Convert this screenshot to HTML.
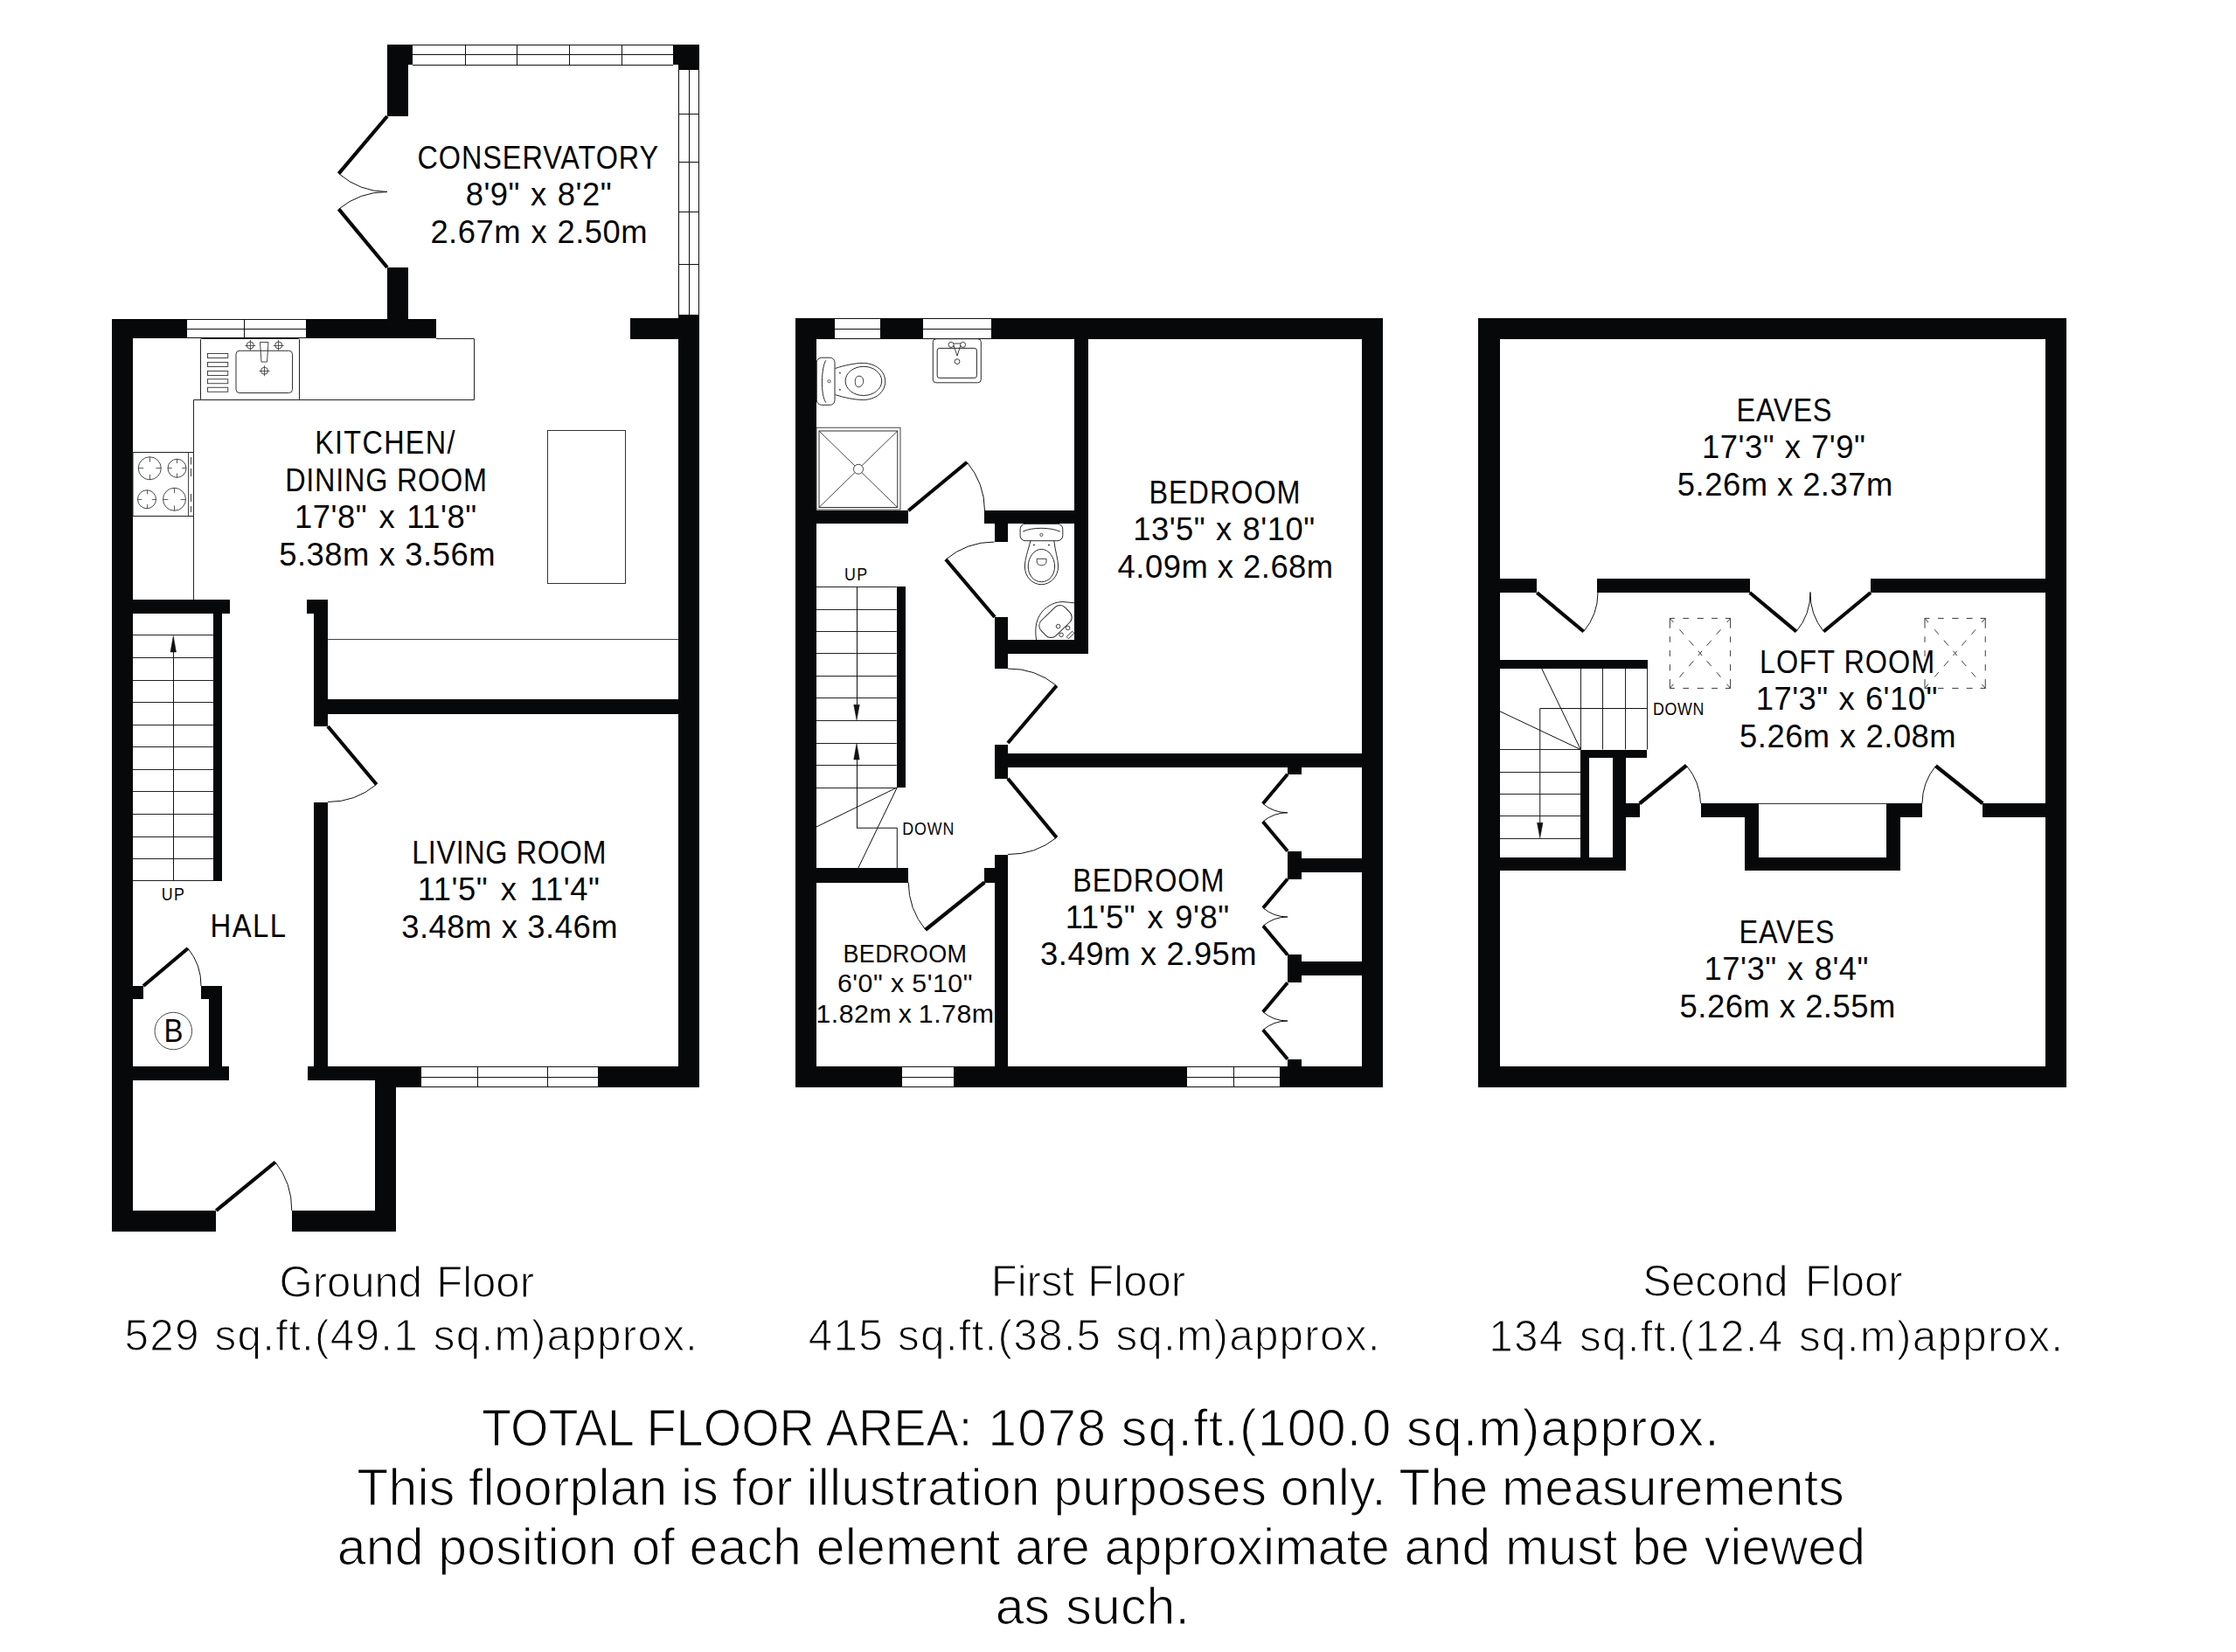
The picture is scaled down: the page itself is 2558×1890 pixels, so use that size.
<!DOCTYPE html>
<html><head><meta charset="utf-8"><style>html,body{margin:0;padding:0;background:#fff;}svg{display:block}</style></head>
<body><svg width="2558" height="1890" viewBox="0 0 2558 1890" style="font-family:'Liberation Sans',sans-serif">
<rect width="2558" height="1890" fill="#fff"/>
<rect x="128" y="365" width="24" height="1044" fill="#060809"/>
<rect x="128" y="365" width="86" height="22" fill="#060809"/>
<path d="M214,365.5H350M214,376.5H350M214,386.5H350" stroke="#111" stroke-width="1" fill="none"/>
<path d="M279.5,365V387" stroke="#111" stroke-width="1" fill="none"/>
<rect x="350" y="365" width="149" height="22" fill="#060809"/>
<rect x="443" y="306" width="24" height="81" fill="#060809"/>
<rect x="443" y="51" width="24" height="82" fill="#060809"/>
<rect x="443" y="51" width="29" height="23" fill="#060809"/>
<path d="M472,51.5H770M472,62.5H770M472,74.5H770" stroke="#111" stroke-width="1" fill="none"/>
<path d="M532.5,51V75" stroke="#111" stroke-width="1" fill="none"/>
<path d="M591.5,51V75" stroke="#111" stroke-width="1" fill="none"/>
<path d="M651.5,51V75" stroke="#111" stroke-width="1" fill="none"/>
<path d="M711.5,51V75" stroke="#111" stroke-width="1" fill="none"/>
<rect x="770" y="51" width="30" height="23" fill="#060809"/>
<rect x="776" y="74" width="24" height="6" fill="#060809"/>
<path d="M776.5,80V360M788.5,80V360M799.5,80V360" stroke="#111" stroke-width="1" fill="none"/>
<path d="M776,130.5H800" stroke="#111" stroke-width="1" fill="none"/>
<path d="M776,185.5H800" stroke="#111" stroke-width="1" fill="none"/>
<path d="M776,242.5H800" stroke="#111" stroke-width="1" fill="none"/>
<path d="M776,302.5H800" stroke="#111" stroke-width="1" fill="none"/>
<rect x="776" y="360" width="24" height="884" fill="#060809"/>
<rect x="721" y="364" width="79" height="24" fill="#060809"/>
<rect x="152" y="686" width="111" height="16" fill="#060809"/>
<rect x="244" y="702" width="10" height="306" fill="#060809"/>
<rect x="351" y="686" width="24" height="16" fill="#060809"/>
<rect x="359" y="686" width="16" height="145" fill="#060809"/>
<rect x="375" y="800" width="401" height="17" fill="#060809"/>
<rect x="359" y="918" width="16" height="318" fill="#060809"/>
<rect x="152" y="1128" width="12" height="15" fill="#060809"/>
<rect x="230" y="1128" width="24" height="15" fill="#060809"/>
<rect x="239" y="1143" width="15" height="77" fill="#060809"/>
<rect x="152" y="1220" width="110" height="16" fill="#060809"/>
<rect x="352" y="1220" width="130" height="16" fill="#060809"/>
<rect x="429" y="1220" width="53" height="24" fill="#060809"/>
<rect x="429" y="1220" width="24" height="189" fill="#060809"/>
<path d="M482,1220.5H684M482,1232.5H684M482,1243.5H684" stroke="#111" stroke-width="1" fill="none"/>
<path d="M546.5,1220V1244" stroke="#111" stroke-width="1" fill="none"/>
<path d="M626.5,1220V1244" stroke="#111" stroke-width="1" fill="none"/>
<rect x="684" y="1220" width="116" height="24" fill="#060809"/>
<rect x="128" y="1385" width="119" height="24" fill="#060809"/>
<rect x="334" y="1385" width="119" height="24" fill="#060809"/>
<line x1="443.00" y1="133.00" x2="387.50" y2="198.60" stroke="#060809" stroke-width="4.2"/>
<path d="M387.50,198.60 A85.93,85.93 0 0 0 443.00,219.50" stroke="#111" stroke-width="1.0" fill="none" />
<line x1="443.00" y1="306.00" x2="387.50" y2="239.20" stroke="#060809" stroke-width="4.2"/>
<path d="M387.50,239.20 A86.85,86.85 0 0 1 443.00,219.50" stroke="#111" stroke-width="1.0" fill="none" />
<line x1="375.00" y1="831.00" x2="430.75" y2="897.50" stroke="#060809" stroke-width="4.2"/>
<path d="M430.75,897.50 A86.78,86.78 0 0 1 375.00,917.50" stroke="#111" stroke-width="1.0" fill="none" />
<line x1="164.00" y1="1128.00" x2="215.00" y2="1085.00" stroke="#060809" stroke-width="4.2"/>
<path d="M215.00,1085.00 A66.71,66.71 0 0 1 230.00,1128.00" stroke="#111" stroke-width="1.0" fill="none" />
<line x1="247.25" y1="1385.00" x2="315.00" y2="1329.50" stroke="#060809" stroke-width="4.2"/>
<path d="M315.00,1329.50 A87.58,87.58 0 0 1 333.75,1385.00" stroke="#111" stroke-width="1.0" fill="none" />
<path d="M221.5,686 V457.5 H542.5 V387.5 H499" stroke="#222" stroke-width="1.0" fill="none" />
<rect x="229.5" y="387.5" width="113" height="70" fill="none" stroke="#222" stroke-width="1" rx="1"/>
<rect x="237.5" y="404.5" width="23.25" height="5" fill="none" stroke="#333" stroke-width="0.9"/>
<rect x="237.5" y="414.5" width="23.25" height="5" fill="none" stroke="#333" stroke-width="0.9"/>
<rect x="237.5" y="424.5" width="23.25" height="5" fill="none" stroke="#333" stroke-width="0.9"/>
<rect x="237.5" y="433.75" width="23.25" height="5" fill="none" stroke="#333" stroke-width="0.9"/>
<rect x="237.5" y="443.25" width="23.25" height="5" fill="none" stroke="#333" stroke-width="0.9"/>
<rect x="270" y="401.25" width="64.5" height="48.25" rx="4" fill="none" stroke="#333" stroke-width="1"/>
<circle cx="286.25" cy="395" r="4" fill="none" stroke="#333" stroke-width="0.9"/>
<line x1="280.25" y1="395.50" x2="292.25" y2="395.50" stroke="#333" stroke-width="0.8"/>
<line x1="286.50" y1="389.00" x2="286.50" y2="401.00" stroke="#333" stroke-width="0.8"/>
<circle cx="318.75" cy="395" r="4" fill="none" stroke="#333" stroke-width="0.9"/>
<line x1="312.75" y1="395.50" x2="324.75" y2="395.50" stroke="#333" stroke-width="0.8"/>
<line x1="318.50" y1="389.00" x2="318.50" y2="401.00" stroke="#333" stroke-width="0.8"/>
<circle cx="302.5" cy="424.25" r="4" fill="none" stroke="#333" stroke-width="0.9"/>
<line x1="296.50" y1="424.50" x2="308.50" y2="424.50" stroke="#333" stroke-width="0.8"/>
<line x1="302.50" y1="418.25" x2="302.50" y2="430.25" stroke="#333" stroke-width="0.8"/>
<path d="M297.5,391.5 H307 L305.5,414 H299 Z" stroke="#333" stroke-width="0.9" fill="none" />
<rect x="152" y="517.5" width="69.5" height="73" fill="none" stroke="#222" stroke-width="1"/>
<path d="M218.5,523V531.5M218.5,536V545M218.5,565V574M218.5,579V586" stroke="#444" stroke-width="1"/>
<line x1="215.50" y1="517.50" x2="215.50" y2="590.00" stroke="#333" stroke-width="0.9"/>
<circle cx="171.25" cy="535.75" r="13" fill="none" stroke="#333" stroke-width="0.9"/>
<line x1="178.40" y1="535.50" x2="184.25" y2="535.50" stroke="#333" stroke-width="0.8"/>
<line x1="164.10" y1="535.50" x2="158.25" y2="535.50" stroke="#333" stroke-width="0.8"/>
<line x1="171.50" y1="542.90" x2="171.50" y2="548.75" stroke="#333" stroke-width="0.8"/>
<line x1="171.50" y1="528.60" x2="171.50" y2="522.75" stroke="#333" stroke-width="0.8"/>
<circle cx="202.5" cy="535.75" r="10.5" fill="none" stroke="#333" stroke-width="0.9"/>
<line x1="208.28" y1="535.50" x2="213.00" y2="535.50" stroke="#333" stroke-width="0.8"/>
<line x1="196.72" y1="535.50" x2="192.00" y2="535.50" stroke="#333" stroke-width="0.8"/>
<line x1="202.50" y1="541.52" x2="202.50" y2="546.25" stroke="#333" stroke-width="0.8"/>
<line x1="202.50" y1="529.98" x2="202.50" y2="525.25" stroke="#333" stroke-width="0.8"/>
<circle cx="168" cy="571.25" r="10.5" fill="none" stroke="#333" stroke-width="0.9"/>
<line x1="173.78" y1="571.50" x2="178.50" y2="571.50" stroke="#333" stroke-width="0.8"/>
<line x1="162.22" y1="571.50" x2="157.50" y2="571.50" stroke="#333" stroke-width="0.8"/>
<line x1="168.50" y1="577.02" x2="168.50" y2="581.75" stroke="#333" stroke-width="0.8"/>
<line x1="168.50" y1="565.48" x2="168.50" y2="560.75" stroke="#333" stroke-width="0.8"/>
<circle cx="199.5" cy="571.25" r="13" fill="none" stroke="#333" stroke-width="0.9"/>
<line x1="206.65" y1="571.50" x2="212.50" y2="571.50" stroke="#333" stroke-width="0.8"/>
<line x1="192.35" y1="571.50" x2="186.50" y2="571.50" stroke="#333" stroke-width="0.8"/>
<line x1="199.50" y1="578.40" x2="199.50" y2="584.25" stroke="#333" stroke-width="0.8"/>
<line x1="199.50" y1="564.10" x2="199.50" y2="558.25" stroke="#333" stroke-width="0.8"/>
<rect x="626.5" y="492.5" width="89" height="175" fill="none" stroke="#333" stroke-width="1"/>
<line x1="375.00" y1="731.50" x2="776.50" y2="731.50" stroke="#444" stroke-width="1.0"/>
<line x1="152.00" y1="726.50" x2="244.50" y2="726.50" stroke="#222" stroke-width="1.0"/>
<line x1="152.00" y1="752.50" x2="244.50" y2="752.50" stroke="#222" stroke-width="1.0"/>
<line x1="152.00" y1="778.50" x2="244.50" y2="778.50" stroke="#222" stroke-width="1.0"/>
<line x1="152.00" y1="803.50" x2="244.50" y2="803.50" stroke="#222" stroke-width="1.0"/>
<line x1="152.00" y1="829.50" x2="244.50" y2="829.50" stroke="#222" stroke-width="1.0"/>
<line x1="152.00" y1="854.50" x2="244.50" y2="854.50" stroke="#222" stroke-width="1.0"/>
<line x1="152.00" y1="880.50" x2="244.50" y2="880.50" stroke="#222" stroke-width="1.0"/>
<line x1="152.00" y1="905.50" x2="244.50" y2="905.50" stroke="#222" stroke-width="1.0"/>
<line x1="152.00" y1="931.50" x2="244.50" y2="931.50" stroke="#222" stroke-width="1.0"/>
<line x1="152.00" y1="957.50" x2="244.50" y2="957.50" stroke="#222" stroke-width="1.0"/>
<line x1="152.00" y1="982.50" x2="244.50" y2="982.50" stroke="#222" stroke-width="1.0"/>
<line x1="152.00" y1="1007.50" x2="244.50" y2="1007.50" stroke="#222" stroke-width="1.0"/>
<line x1="198.50" y1="1007.50" x2="198.50" y2="745.00" stroke="#111" stroke-width="1.0"/>
<path d="M198.25,727.5 L195,746 L201.5,746 Z" stroke="#111" stroke-width="0.5" fill="#111" />
<rect x="910" y="364" width="24" height="880" fill="#060809"/>
<rect x="910" y="364" width="45" height="24" fill="#060809"/>
<path d="M955,364.5H1007M955,376.5H1007M955,387.5H1007" stroke="#111" stroke-width="1" fill="none"/>
<rect x="1007" y="364" width="49" height="24" fill="#060809"/>
<path d="M1056,364.5H1134M1056,376.5H1134M1056,387.5H1134" stroke="#111" stroke-width="1" fill="none"/>
<rect x="1134" y="364" width="448" height="24" fill="#060809"/>
<rect x="1558" y="364" width="24" height="880" fill="#060809"/>
<rect x="910" y="1220" width="122" height="24" fill="#060809"/>
<path d="M1032,1220.5H1091M1032,1232.5H1091M1032,1243.5H1091" stroke="#111" stroke-width="1" fill="none"/>
<rect x="1091" y="1220" width="267" height="24" fill="#060809"/>
<path d="M1358,1220.5H1464M1358,1232.5H1464M1358,1243.5H1464" stroke="#111" stroke-width="1" fill="none"/>
<path d="M1411.5,1220V1244" stroke="#111" stroke-width="1" fill="none"/>
<rect x="1464" y="1220" width="118" height="24" fill="#060809"/>
<rect x="1229" y="388" width="16" height="360" fill="#060809"/>
<rect x="934" y="584" width="105" height="15" fill="#060809"/>
<rect x="1126" y="584" width="103" height="15" fill="#060809"/>
<rect x="1138" y="599" width="15" height="21" fill="#060809"/>
<rect x="1138" y="706" width="15" height="59" fill="#060809"/>
<rect x="1138" y="732" width="107" height="16" fill="#060809"/>
<rect x="1026" y="671" width="10" height="230" fill="#060809"/>
<rect x="1138" y="852" width="15" height="39" fill="#060809"/>
<rect x="1153" y="862" width="405" height="16" fill="#060809"/>
<rect x="1138" y="978" width="15" height="242" fill="#060809"/>
<rect x="934" y="993" width="105" height="17" fill="#060809"/>
<rect x="1126" y="993" width="27" height="17" fill="#060809"/>
<rect x="1473" y="878" width="16" height="8" fill="#060809"/>
<rect x="1473" y="974" width="16" height="32" fill="#060809"/>
<rect x="1473" y="1092" width="16" height="32" fill="#060809"/>
<rect x="1473" y="1212" width="16" height="8" fill="#060809"/>
<rect x="1489" y="982" width="69" height="16" fill="#060809"/>
<rect x="1489" y="1100" width="69" height="16" fill="#060809"/>
<line x1="1039.25" y1="584.25" x2="1106.25" y2="528.75" stroke="#060809" stroke-width="4.2"/>
<path d="M1106.25,528.75 A87.00,87.00 0 0 1 1126.50,584.25" stroke="#111" stroke-width="1.0" fill="none" />
<line x1="1138.00" y1="706.00" x2="1082.00" y2="640.00" stroke="#060809" stroke-width="4.2"/>
<path d="M1082.00,640.00 A86.56,86.56 0 0 1 1137.50,620.00" stroke="#111" stroke-width="1.0" fill="none" />
<line x1="1153.00" y1="850.00" x2="1208.75" y2="784.50" stroke="#060809" stroke-width="4.2"/>
<path d="M1208.75,784.50 A86.01,86.01 0 0 0 1153.00,765.00" stroke="#111" stroke-width="1.0" fill="none" />
<line x1="1153.00" y1="890.75" x2="1208.75" y2="958.25" stroke="#060809" stroke-width="4.2"/>
<path d="M1208.75,958.25 A87.55,87.55 0 0 1 1153.00,977.50" stroke="#111" stroke-width="1.0" fill="none" />
<line x1="1126.25" y1="1009.50" x2="1058.75" y2="1063.75" stroke="#060809" stroke-width="4.2"/>
<path d="M1058.75,1063.75 A86.60,86.60 0 0 1 1039.25,1009.50" stroke="#111" stroke-width="1.0" fill="none" />
<line x1="1473.00" y1="885.75" x2="1444.72" y2="919.46" stroke="#060809" stroke-width="4.0"/>
<path d="M1444.72,919.46 A44.00,44.00 0 0 0 1473.00,929.75" stroke="#111" stroke-width="1.0" fill="none" />
<line x1="1473.00" y1="973.75" x2="1444.72" y2="940.04" stroke="#060809" stroke-width="4.0"/>
<path d="M1444.72,940.04 A44.00,44.00 0 0 1 1473.00,929.75" stroke="#111" stroke-width="1.0" fill="none" />
<line x1="1473.00" y1="1005.50" x2="1445.04" y2="1038.82" stroke="#060809" stroke-width="4.0"/>
<path d="M1445.04,1038.82 A43.50,43.50 0 0 0 1473.00,1049.00" stroke="#111" stroke-width="1.0" fill="none" />
<line x1="1473.00" y1="1092.50" x2="1445.04" y2="1059.18" stroke="#060809" stroke-width="4.0"/>
<path d="M1445.04,1059.18 A43.50,43.50 0 0 1 1473.00,1049.00" stroke="#111" stroke-width="1.0" fill="none" />
<line x1="1473.00" y1="1124.25" x2="1444.88" y2="1157.76" stroke="#060809" stroke-width="4.0"/>
<path d="M1444.88,1157.76 A43.75,43.75 0 0 0 1473.00,1168.00" stroke="#111" stroke-width="1.0" fill="none" />
<line x1="1473.00" y1="1211.75" x2="1444.88" y2="1178.24" stroke="#060809" stroke-width="4.0"/>
<path d="M1444.88,1178.24 A43.75,43.75 0 0 1 1473.00,1168.00" stroke="#111" stroke-width="1.0" fill="none" />
<rect x="934.3" y="409.2" width="20.7" height="54.1" rx="5.5" fill="none" stroke="#2a2a2a" stroke-width="1"/>
<path d="M944.8,412.3 C939.5,420 938.5,452 944.8,460.6" stroke="#2a2a2a" stroke-width="1.0" fill="none" />
<circle cx="948.5" cy="436.2" r="1.6" fill="none" stroke="#2a2a2a" stroke-width="0.8"/>
<path d="M955.5,421.5 C966,418 978,415.4 987.2,415.4 C1001,415.4 1012.7,424 1012.7,436.4 C1012.7,449 1001,457.5 987.2,457.5 C978,457.5 966,455 955.5,451.6" stroke="#2a2a2a" stroke-width="1.0" fill="none" />
<ellipse cx="987.9" cy="435.9" rx="20.8" ry="16.6" fill="none" stroke="#2a2a2a" stroke-width="1"/>
<path d="M983,430.2 C986.5,430.2 987.7,433 987.7,436 C987.7,440 985,442.7 982,442.7 C979.5,442.7 978.3,440 978.3,436.5 C978.3,432.5 980,430.2 983,430.2 Z" stroke="#2a2a2a" stroke-width="0.9" fill="none" />
<circle cx="960.9" cy="426.6" r="0.9" fill="#2a2a2a"/><circle cx="960.9" cy="445.8" r="0.9" fill="#2a2a2a"/>
<rect x="1067.3" y="387.7" width="55" height="50.1" rx="3.6" fill="none" stroke="#2a2a2a" stroke-width="1"/>
<rect x="1072.2" y="398.4" width="45.2" height="34" rx="2.5" fill="none" stroke="#2a2a2a" stroke-width="1"/>
<circle cx="1088.1" cy="394.4" r="3" fill="#fff" stroke="#2a2a2a" stroke-width="0.9"/>
<circle cx="1101.6" cy="394.4" r="3" fill="#fff" stroke="#2a2a2a" stroke-width="0.9"/>
<path d="M1091,393 H1099" stroke="#2a2a2a" stroke-width="0.9" fill="none" />
<path d="M1091,395 L1095,407.2 L1098.9,395" stroke="#2a2a2a" stroke-width="0.9" fill="none" />
<circle cx="1095" cy="413.6" r="2.9" fill="none" stroke="#2a2a2a" stroke-width="0.9"/>
<rect x="934" y="489.25" width="96" height="93.75" fill="none" stroke="#444" stroke-width="1"/>
<rect x="937" y="493" width="89.75" height="87.5" fill="none" stroke="#333" stroke-width="1"/>
<line x1="937.00" y1="493.00" x2="1026.75" y2="580.50" stroke="#333" stroke-width="0.9"/>
<line x1="1026.75" y1="493.00" x2="937.00" y2="580.50" stroke="#333" stroke-width="0.9"/>
<circle cx="982" cy="536.75" r="5.5" fill="#fff" stroke="#333" stroke-width="0.9"/>
<rect x="1167.1" y="599.4" width="48.7" height="19.3" rx="6" fill="none" stroke="#2a2a2a" stroke-width="1"/>
<path d="M1170.2,608.2 C1180,603 1202,603 1212.8,608.2" stroke="#2a2a2a" stroke-width="1.0" fill="none" />
<circle cx="1191.4" cy="611.9" r="1.6" fill="none" stroke="#2a2a2a" stroke-width="0.8"/>
<path d="M1179,618.7 C1176,630 1172.4,640 1172.4,648 C1172.4,660 1181,668.7 1191.3,668.7 C1201.5,668.7 1210.6,660 1210.6,648 C1210.6,640 1207,630 1205.8,618.7" stroke="#2a2a2a" stroke-width="1.0" fill="none" />
<path d="M1191.4,628.4 C1200,628.4 1206.6,638 1206.6,648 C1206.6,658 1200,665.7 1191.4,665.7 C1182.8,665.7 1176.2,658 1176.2,648 C1176.2,638 1182.8,628.4 1191.4,628.4 Z" stroke="#2a2a2a" stroke-width="1.0" fill="none" />
<path d="M1186.2,639.3 H1197 V643 C1197,645.5 1194,646.8 1191.6,646.8 C1189,646.8 1186.2,645.5 1186.2,643 Z" stroke="#2a2a2a" stroke-width="0.9" fill="none" />
<circle cx="1182.9" cy="623.5" r="0.9" fill="#2a2a2a"/><circle cx="1200" cy="623.5" r="0.9" fill="#2a2a2a"/>
<path d="M1185.6,732 C1184,722 1184,710 1192,700 C1199,692 1208,688.5 1216,688.5 L1229,689.8" stroke="#2a2a2a" stroke-width="1.0" fill="none" />
<g transform="translate(1207.5,711) rotate(-44)"><rect x="-19" y="-12" width="38" height="24" rx="8" fill="none" stroke="#2a2a2a" stroke-width="1"/></g>
<circle cx="1210.6" cy="716.6" r="2.3" fill="#fff" stroke="#2a2a2a" stroke-width="0.9"/>
<circle cx="1221.6" cy="718.4" r="2.3" fill="#fff" stroke="#2a2a2a" stroke-width="0.9"/>
<circle cx="1214.1" cy="726.3" r="2.3" fill="#fff" stroke="#2a2a2a" stroke-width="0.9"/>
<g transform="translate(1224.5,726.5) rotate(-44)"><rect x="-4.5" y="-1.6" width="9" height="3.2" fill="none" stroke="#2a2a2a" stroke-width="0.9"/></g>
<line x1="934.00" y1="671.50" x2="1025.75" y2="671.50" stroke="#222" stroke-width="1.0"/>
<line x1="934.00" y1="697.50" x2="1025.75" y2="697.50" stroke="#222" stroke-width="1.0"/>
<line x1="934.00" y1="722.50" x2="1025.75" y2="722.50" stroke="#222" stroke-width="1.0"/>
<line x1="934.00" y1="747.50" x2="1025.75" y2="747.50" stroke="#222" stroke-width="1.0"/>
<line x1="934.00" y1="773.50" x2="1025.75" y2="773.50" stroke="#222" stroke-width="1.0"/>
<line x1="934.00" y1="798.50" x2="1025.75" y2="798.50" stroke="#222" stroke-width="1.0"/>
<line x1="934.00" y1="824.50" x2="1025.75" y2="824.50" stroke="#222" stroke-width="1.0"/>
<line x1="934.00" y1="850.50" x2="1025.75" y2="850.50" stroke="#222" stroke-width="1.0"/>
<line x1="934.00" y1="875.50" x2="1025.75" y2="875.50" stroke="#222" stroke-width="1.0"/>
<line x1="934.00" y1="901.50" x2="1025.75" y2="901.50" stroke="#222" stroke-width="1.0"/>
<line x1="980.50" y1="671.25" x2="980.50" y2="806.00" stroke="#111" stroke-width="1.0"/>
<path d="M980,823.75 L976.75,806.25 L983.25,806.25 Z" stroke="#111" stroke-width="0.5" fill="#111" />
<line x1="980.50" y1="868.50" x2="980.50" y2="947.25" stroke="#111" stroke-width="1.0"/>
<path d="M980,850.5 L976.75,869 L983.25,869 Z" stroke="#111" stroke-width="0.5" fill="#111" />
<path d="M980,947.25 H1026.3 V993.5" stroke="#111" stroke-width="1.0" fill="none" />
<line x1="1026.30" y1="900.90" x2="933.60" y2="946.20" stroke="#111" stroke-width="1.0"/>
<line x1="1026.30" y1="900.90" x2="981.60" y2="993.50" stroke="#111" stroke-width="1.0"/>
<rect x="1691" y="364" width="25" height="880" fill="#060809"/>
<rect x="1691" y="364" width="673" height="24" fill="#060809"/>
<rect x="2340" y="364" width="24" height="880" fill="#060809"/>
<rect x="1691" y="1220" width="673" height="24" fill="#060809"/>
<rect x="1716" y="662" width="42" height="16" fill="#060809"/>
<rect x="1827" y="662" width="175" height="16" fill="#060809"/>
<rect x="2140" y="662" width="200" height="16" fill="#060809"/>
<rect x="1716" y="755" width="169" height="10" fill="#060809"/>
<rect x="1808" y="858" width="76" height="9" fill="#060809"/>
<rect x="1808" y="858" width="10" height="123" fill="#060809"/>
<rect x="1845" y="858" width="15" height="138" fill="#060809"/>
<rect x="1716" y="981" width="144" height="15" fill="#060809"/>
<rect x="1860" y="919" width="16" height="16" fill="#060809"/>
<rect x="1946" y="919" width="66" height="16" fill="#060809"/>
<rect x="1996" y="919" width="16" height="77" fill="#060809"/>
<rect x="1996" y="981" width="178" height="15" fill="#060809"/>
<rect x="2158" y="919" width="16" height="77" fill="#060809"/>
<rect x="2158" y="919" width="41" height="16" fill="#060809"/>
<rect x="2268" y="919" width="72" height="16" fill="#060809"/>
<line x1="2012.00" y1="919.50" x2="2158.25" y2="919.50" stroke="#333" stroke-width="1.0"/>
<line x1="1758.25" y1="678.00" x2="1811.75" y2="722.50" stroke="#060809" stroke-width="4.2"/>
<path d="M1811.75,722.50 A69.59,69.59 0 0 0 1828.00,678.00" stroke="#111" stroke-width="1.0" fill="none" />
<line x1="2001.75" y1="678.00" x2="2055.00" y2="722.50" stroke="#060809" stroke-width="4.2"/>
<path d="M2055.00,722.50 A69.40,69.40 0 0 0 2071.00,677.50" stroke="#111" stroke-width="1.0" fill="none" />
<line x1="2140.00" y1="678.00" x2="2086.25" y2="722.50" stroke="#060809" stroke-width="4.2"/>
<path d="M2086.25,722.50 A69.78,69.78 0 0 1 2071.00,677.50" stroke="#111" stroke-width="1.0" fill="none" />
<line x1="1875.75" y1="919.25" x2="1929.25" y2="875.75" stroke="#060809" stroke-width="4.2"/>
<path d="M1929.25,875.75 A68.95,68.95 0 0 1 1945.50,919.25" stroke="#111" stroke-width="1.0" fill="none" />
<line x1="2268.25" y1="919.25" x2="2214.50" y2="876.25" stroke="#060809" stroke-width="4.2"/>
<path d="M2214.50,876.25 A68.83,68.83 0 0 0 2199.00,919.25" stroke="#111" stroke-width="1.0" fill="none" />
<line x1="1808.50" y1="765.00" x2="1808.50" y2="857.50" stroke="#222" stroke-width="1.0"/>
<line x1="1833.50" y1="765.00" x2="1833.50" y2="857.50" stroke="#222" stroke-width="1.0"/>
<line x1="1859.50" y1="765.00" x2="1859.50" y2="857.50" stroke="#222" stroke-width="1.0"/>
<line x1="1884.50" y1="765.00" x2="1884.50" y2="857.50" stroke="#222" stroke-width="1.0"/>
<line x1="1808.25" y1="857.50" x2="1763.75" y2="765.00" stroke="#111" stroke-width="1.0"/>
<line x1="1808.25" y1="857.50" x2="1715.75" y2="813.75" stroke="#111" stroke-width="1.0"/>
<path d="M1884.5,810.5 H1761.75 V941" stroke="#111" stroke-width="1.0" fill="none" />
<path d="M1761.75,958.75 L1758.5,941.25 L1765,941.25 Z" stroke="#111" stroke-width="0.5" fill="#111" />
<line x1="1715.75" y1="857.50" x2="1808.25" y2="857.50" stroke="#222" stroke-width="1.0"/>
<line x1="1715.75" y1="883.50" x2="1808.25" y2="883.50" stroke="#222" stroke-width="1.0"/>
<line x1="1715.75" y1="908.50" x2="1808.25" y2="908.50" stroke="#222" stroke-width="1.0"/>
<line x1="1715.75" y1="933.50" x2="1808.25" y2="933.50" stroke="#222" stroke-width="1.0"/>
<line x1="1715.75" y1="959.50" x2="1808.25" y2="959.50" stroke="#222" stroke-width="1.0"/>
<path d="M1910.35,707.40L1915.85,707.40 M1910.35,787.40L1915.85,787.40 M1925.35,707.40L1931.95,707.40 M1925.35,787.40L1931.95,787.40 M1941.65,707.40L1948.85,707.40 M1941.65,787.40L1948.85,787.40 M1958.05,707.40L1964.95,707.40 M1958.05,787.40L1964.95,787.40 M1973.85,707.40L1979.75,707.40 M1973.85,787.40L1979.75,787.40 M1910.35,707.40L1910.35,718.70 M1979.60,707.40L1979.60,718.70 M1910.35,728.20L1910.35,734.80 M1979.60,728.20L1979.60,734.80 M1910.35,744.00L1910.35,750.90 M1979.60,744.00L1979.60,750.90 M1910.35,760.10L1910.35,767.30 M1979.60,760.10L1979.60,767.30 M1910.35,777.00L1910.35,787.40 M1979.60,777.00L1979.60,787.40 M1910.35,707.40L1914.41,712.09 M1921.48,720.25L1926.19,725.70 M1932.21,732.65L1937.45,738.70 M1979.60,707.40L1975.54,712.09 M1968.47,720.25L1963.76,725.70 M1957.74,732.65L1952.50,738.70 M1910.35,787.40L1914.41,782.71 M1921.48,774.55L1926.19,769.10 M1932.21,762.15L1937.45,756.10 M1979.60,787.40L1975.54,782.71 M1968.47,774.55L1963.76,769.10 M1957.74,762.15L1952.50,756.10" stroke="#3a3a3a" stroke-width="1.0" fill="none" />
<path d="M1942.77,744.70L1947.17,750.10M1942.77,750.10L1947.17,744.70" stroke="#3a3a3a" stroke-width="1.0" fill="none" />
<path d="M2202.00,707.40L2207.50,707.40 M2202.00,787.40L2207.50,787.40 M2217.00,707.40L2223.60,707.40 M2217.00,787.40L2223.60,787.40 M2233.30,707.40L2240.50,707.40 M2233.30,787.40L2240.50,787.40 M2249.70,707.40L2256.60,707.40 M2249.70,787.40L2256.60,787.40 M2265.50,707.40L2271.40,707.40 M2265.50,787.40L2271.40,787.40 M2202.00,707.40L2202.00,718.70 M2271.25,707.40L2271.25,718.70 M2202.00,728.20L2202.00,734.80 M2271.25,728.20L2271.25,734.80 M2202.00,744.00L2202.00,750.90 M2271.25,744.00L2271.25,750.90 M2202.00,760.10L2202.00,767.30 M2271.25,760.10L2271.25,767.30 M2202.00,777.00L2202.00,787.40 M2271.25,777.00L2271.25,787.40 M2202.00,707.40L2206.06,712.09 M2213.13,720.25L2217.84,725.70 M2223.86,732.65L2229.10,738.70 M2271.25,707.40L2267.19,712.09 M2260.12,720.25L2255.41,725.70 M2249.39,732.65L2244.15,738.70 M2202.00,787.40L2206.06,782.71 M2213.13,774.55L2217.84,769.10 M2223.86,762.15L2229.10,756.10 M2271.25,787.40L2267.19,782.71 M2260.12,774.55L2255.41,769.10 M2249.39,762.15L2244.15,756.10" stroke="#3a3a3a" stroke-width="1.0" fill="none" />
<path d="M2234.43,744.70L2238.82,750.10M2234.43,750.10L2238.82,744.70" stroke="#3a3a3a" stroke-width="1.0" fill="none" />
<circle cx="198.3" cy="1179.5" r="21.25" fill="none" stroke="#333" stroke-width="0.9"/>
<text transform="matrix(0.8900 0 0 1 477.48 192.90)" font-size="36.4" letter-spacing="1.080" fill="#050505">CONSERVATORY</text>
<text transform="matrix(1.0000 0 0 1 532.64 235.10)" font-size="36.4" letter-spacing="0.500" fill="#050505" word-spacing="1.422">8&#x27;9&quot; x 8&#x27;2&quot;</text>
<text transform="matrix(1.0000 0 0 1 492.38 277.80)" font-size="36.4" letter-spacing="0.500" fill="#050505" word-spacing="0.750">2.67m x 2.50m</text>
<text transform="matrix(0.8900 0 0 1 360.16 519.10)" font-size="36.4" letter-spacing="1.469" fill="#050505">KITCHEN/</text>
<text transform="matrix(0.8900 0 0 1 326.16 561.90)" font-size="36.4" letter-spacing="0.879" fill="#050505">DINING ROOM</text>
<text transform="matrix(1.0000 0 0 1 337.09 604.00)" font-size="36.4" letter-spacing="0.500" fill="#050505" word-spacing="2.597">17&#x27;8&quot; x 11&#x27;8&quot;</text>
<text transform="matrix(1.0000 0 0 1 319.14 647.30)" font-size="36.4" letter-spacing="0.500" fill="#050505" word-spacing="0.318">5.38m x 3.56m</text>
<text transform="matrix(0.8900 0 0 1 471.21 988.20)" font-size="36.4" letter-spacing="0.708" fill="#050505">LIVING ROOM</text>
<text transform="matrix(1.0000 0 0 1 477.79 1030.10)" font-size="36.4" letter-spacing="0.500" fill="#050505" word-spacing="3.928">11&#x27;5&quot; x 11&#x27;4&quot;</text>
<text transform="matrix(1.0000 0 0 1 459.14 1073.00)" font-size="36.4" letter-spacing="0.500" fill="#050505" word-spacing="0.318">3.48m x 3.46m</text>
<text transform="matrix(0.8900 0 0 1 240.57 1071.70)" font-size="37" letter-spacing="1.572" fill="#050505">HALL</text>
<text transform="matrix(0.9200 0 0 1 184.77 1030.10)" font-size="19.4" letter-spacing="1.534" fill="#050505">UP</text>
<text transform="matrix(0.8900 0 0 1 187.47 1192.10)" font-size="37" letter-spacing="0.000" fill="#050505">B</text>
<text transform="matrix(0.8900 0 0 1 1314.51 576.20)" font-size="36.4" letter-spacing="1.067" fill="#050505">BEDROOM</text>
<text transform="matrix(1.0000 0 0 1 1296.19 618.30)" font-size="36.4" letter-spacing="0.500" fill="#050505" word-spacing="1.198">13&#x27;5&quot; x 8&#x27;10&quot;</text>
<text transform="matrix(1.0000 0 0 1 1278.57 661.30)" font-size="36.4" letter-spacing="0.500" fill="#050505" word-spacing="-0.046">4.09m x 2.68m</text>
<text transform="matrix(0.8900 0 0 1 1227.31 1019.60)" font-size="36.4" letter-spacing="1.085" fill="#050505">BEDROOM</text>
<text transform="matrix(1.0000 0 0 1 1218.79 1061.90)" font-size="36.4" letter-spacing="0.500" fill="#050505" word-spacing="2.614">11&#x27;5&quot; x 9&#x27;8&quot;</text>
<text transform="matrix(1.0000 0 0 1 1190.04 1104.10)" font-size="36.4" letter-spacing="0.500" fill="#050505" word-spacing="0.468">3.49m x 2.95m</text>
<text transform="matrix(0.8900 0 0 1 964.44 1100.50)" font-size="30.3" letter-spacing="0.430" fill="#050505">BEDROOM</text>
<text transform="matrix(1.0000 0 0 1 957.99 1134.90)" font-size="30.3" letter-spacing="0.500" fill="#050505" word-spacing="-0.174">6&#x27;0&quot; x 5&#x27;10&quot;</text>
<text transform="matrix(1.0000 0 0 1 933.48 1169.90)" font-size="30.3" letter-spacing="0.500" fill="#050505" word-spacing="-1.421">1.82m x 1.78m</text>
<text transform="matrix(0.9200 0 0 1 966.07 663.75)" font-size="19.4" letter-spacing="1.371" fill="#050505">UP</text>
<text transform="matrix(0.9200 0 0 1 1032.32 955.00)" font-size="19.4" letter-spacing="0.916" fill="#050505">DOWN</text>
<text transform="matrix(0.8900 0 0 1 1986.51 482.40)" font-size="36.4" letter-spacing="0.948" fill="#050505">EAVES</text>
<text transform="matrix(1.0000 0 0 1 1946.99 524.30)" font-size="36.4" letter-spacing="0.500" fill="#050505" word-spacing="1.040">17&#x27;3&quot; x 7&#x27;9&quot;</text>
<text transform="matrix(1.0000 0 0 1 1918.84 567.10)" font-size="36.4" letter-spacing="0.500" fill="#050505" word-spacing="-0.132">5.26m x 2.37m</text>
<text transform="matrix(0.8900 0 0 1 2013.01 769.80)" font-size="36.4" letter-spacing="1.180" fill="#050505">LOFT ROOM</text>
<text transform="matrix(1.0000 0 0 1 2008.69 811.70)" font-size="36.4" letter-spacing="0.500" fill="#050505" word-spacing="1.098">17&#x27;3&quot; x 6&#x27;10&quot;</text>
<text transform="matrix(1.0000 0 0 1 1990.04 854.50)" font-size="36.4" letter-spacing="0.500" fill="#050505" word-spacing="0.468">5.26m x 2.08m</text>
<text transform="matrix(0.8900 0 0 1 1989.51 1078.80)" font-size="36.4" letter-spacing="0.948" fill="#050505">EAVES</text>
<text transform="matrix(1.0000 0 0 1 1949.59 1120.80)" font-size="36.4" letter-spacing="0.500" fill="#050505" word-spacing="1.540">17&#x27;3&quot; x 8&#x27;4&quot;</text>
<text transform="matrix(1.0000 0 0 1 1921.54 1163.90)" font-size="36.4" letter-spacing="0.500" fill="#050505" word-spacing="0.018">5.26m x 2.55m</text>
<text transform="matrix(0.9200 0 0 1 1891.07 818.00)" font-size="19.4" letter-spacing="0.644" fill="#050505">DOWN</text>
<text transform="matrix(0.9760 0 0 1 319.45 1483.90)" font-size="50.3" letter-spacing="0.000" fill="#050505" stroke="#fff" stroke-width="1.2" word-spacing="2.438">Ground Floor</text>
<text transform="matrix(1.0000 0 0 1 142.42 1545.20)" font-size="49.5" letter-spacing="1.200" fill="#050505" stroke="#fff" stroke-width="1.2" word-spacing="1.993">529 sq.ft.(49.1 sq.m)approx.</text>
<text transform="matrix(0.9760 0 0 1 1133.67 1482.60)" font-size="50.3" letter-spacing="0.000" fill="#050505" stroke="#fff" stroke-width="1.2" word-spacing="1.631">First Floor</text>
<text transform="matrix(1.0000 0 0 1 924.71 1545.20)" font-size="49.5" letter-spacing="1.200" fill="#050505" stroke="#fff" stroke-width="1.2" word-spacing="1.148">415 sq.ft.(38.5 sq.m)approx.</text>
<text transform="matrix(0.9760 0 0 1 1879.15 1483.20)" font-size="50.3" letter-spacing="0.000" fill="#050505" stroke="#fff" stroke-width="1.2" word-spacing="5.773">Second Floor</text>
<text transform="matrix(1.0000 0 0 1 1703.24 1545.80)" font-size="49.5" letter-spacing="1.200" fill="#050505" stroke="#fff" stroke-width="1.2" word-spacing="2.683">134 sq.ft.(12.4 sq.m)approx.</text>
<text transform="matrix(0.9470 0 0 1 550.88 1654.30)" font-size="59" letter-spacing="0.000" fill="#050505" stroke="#fff" stroke-width="1.2" word-spacing="0.360">TOTAL FLOOR AREA:</text>
<text transform="matrix(1.0000 0 0 1 1130.18 1654.30)" font-size="59" letter-spacing="1.200" fill="#050505" stroke="#fff" stroke-width="1.2" word-spacing="-0.975">1078 sq.ft.(100.0 sq.m)approx.</text>
<text transform="matrix(1.0000 0 0 1 408.32 1722.00)" font-size="59" letter-spacing="0.150" fill="#050505" stroke="#fff" stroke-width="1.2" word-spacing="-1.012">This floorplan is for illustration purposes only. The measurements</text>
<text transform="matrix(1.0000 0 0 1 385.74 1790.00)" font-size="59" letter-spacing="0.150" fill="#050505" stroke="#fff" stroke-width="1.2" word-spacing="0.076">and position of each element are approximate and must be viewed</text>
<text transform="matrix(1.0000 0 0 1 1138.64 1857.60)" font-size="59" letter-spacing="0.150" fill="#050505" stroke="#fff" stroke-width="1.2" word-spacing="1.540">as such.</text>
</svg></body></html>
